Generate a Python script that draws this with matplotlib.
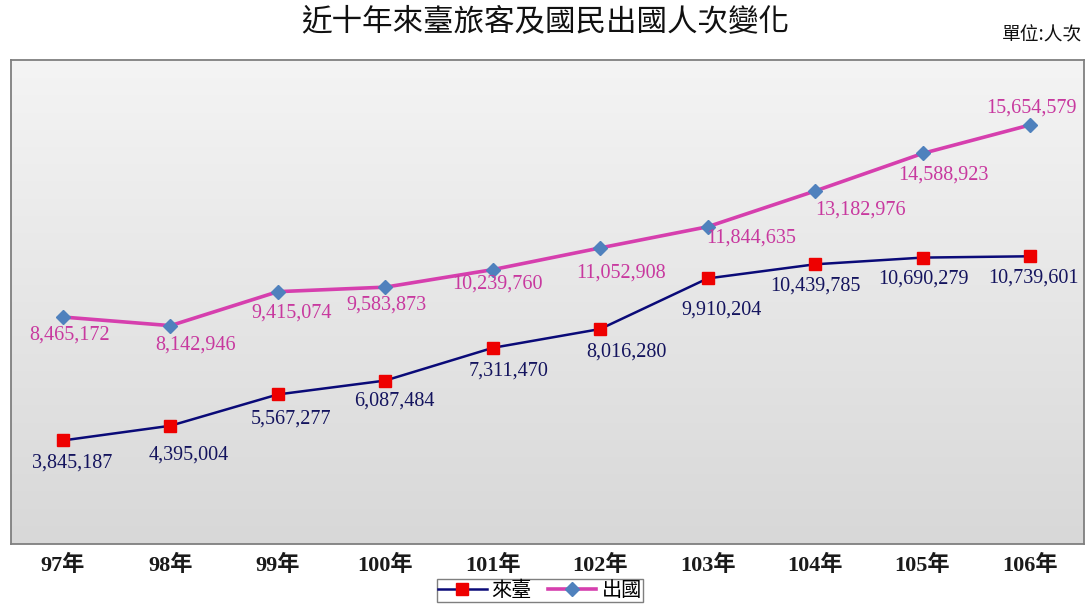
import numpy as np
import matplotlib
matplotlib.use("Agg")
import matplotlib.pyplot as plt
from matplotlib.lines import Line2D
from matplotlib.colors import LinearSegmentedColormap

# ---- data ----
years = ["97年", "98年", "99年", "100年", "101年", "102年", "103年", "104年", "105年", "106年"]
inbound = [3845187, 4395004, 5567277, 6087484, 7311470, 8016280, 9910204, 10439785, 10690279, 10739601]   # 來臺
outbound = [8465172, 8142946, 9415074, 9583873, 10239760, 11052908, 11844635, 13182976, 14588923, 15654579]  # 出國
series_names = ["來臺", "出國"]
title = "近十年來臺旅客及國民出國人次變化"
unit_text = "單位:人次"

# label offsets (pixels) relative to each point
out_off = [(7, -18), (25, -19), (14, -21), (1, -18), (5, -14), (21, -25), (44, -11), (45, -19), (21, -22), (2, 17)]
in_off = [(9, -23), (18, -29), (13, -25), (9, -21), (16, -23), (26, -23), (14, -32), (0, -22), (1, -21), (4, -22)]

W, H = 1085, 604
fig = plt.figure(figsize=(W / 100, H / 100), dpi=100)
fig.patch.set_facecolor("white")

L, R, T, B = 11, 1084, 60, 544
ax = fig.add_axes([L / W, 1 - B / H, (R - L) / W, (B - T) / H])

x = np.arange(len(years))
xlim = (-0.484, 9.503)
ylim = (-32000, 18088000)

# gradient background (light at top, darker at bottom)
grad = np.linspace(0, 1, 256).reshape(-1, 1)
cmap = LinearSegmentedColormap.from_list("bg", ["#f4f4f4", "#d8d8d8"])
ax.imshow(grad, cmap=cmap, aspect="auto", extent=(0, 1, 0, 1), origin="upper",
          transform=ax.transAxes, zorder=0, interpolation="bicubic")
ax.set_xlim(*xlim)
ax.set_ylim(*ylim)

mag = "#d63fae"
navy = "#0a0a78"
ax.plot(x, outbound, color=mag, lw=2.6, zorder=3)
ax.plot(x, outbound, ls="none", marker="D", ms=7, color="#4f81bd", mec="#4f81bd", zorder=4)
ax.plot(x, inbound, color=navy, lw=1.8, zorder=3)
ax.plot(x, inbound, ls="none", marker="s", ms=9, color="#ee0000", mec="#ee0000", zorder=4)

lab_font = ["Liberation Serif"]
for i, v in enumerate(outbound):
    dx, dy = out_off[i]
    ax.annotate(f"{v:,}", (x[i], v), xytext=(dx, dy), textcoords="offset pixels",
                ha="center", va="center", color="#c8399f", fontsize=14.5, family=lab_font, zorder=5)
for i, v in enumerate(inbound):
    dx, dy = in_off[i]
    ax.annotate(f"{v:,}", (x[i], v), xytext=(dx, dy), textcoords="offset pixels",
                ha="center", va="center", color="#14145e", fontsize=14.5, family=lab_font, zorder=5)

ax.set_xticks(x)
ax.set_xticklabels(years, family=["Liberation Serif", "Noto Sans CJK TC"], fontsize=16,
                   fontweight="bold")
ax.tick_params(axis="x", length=0, pad=8, colors="#1a1a1a")
ax.set_yticks([])
for s in ax.spines.values():
    s.set_color("#7f7f7f")
    s.set_linewidth(1.3)

fig.text(545 / W, 1 - 23 / H, title, ha="center", va="center", fontsize=22,
         family=["Noto Sans CJK TC"], fontweight="light", color="#111111")
fig.text(1082 / W, 1 - 35 / H, unit_text, ha="right", va="center", fontsize=13.5,
         family=["Noto Sans CJK TC"], color="#111111")

handles = [
    Line2D([], [], color=navy, lw=1.8, marker="s", ms=9, mfc="#ee0000", mec="#ee0000"),
    Line2D([], [], color=mag, lw=2.6, marker="D", ms=7, mfc="#4f81bd", mec="#4f81bd"),
]
leg = fig.legend(handles, series_names, loc="upper center", bbox_to_anchor=(540 / W, 1 - 579 / H),
                 ncol=2, frameon=True, fancybox=False, edgecolor="#7f7f7f", framealpha=1,
                 prop={"family": "Noto Sans CJK TC", "size": 14.5}, handlelength=2.4,
                 handletextpad=0.25, columnspacing=0.8, borderpad=0.05, borderaxespad=0)
leg.get_frame().set_linewidth(1.0)

fig.savefig("out.png", dpi=100, facecolor="white")
